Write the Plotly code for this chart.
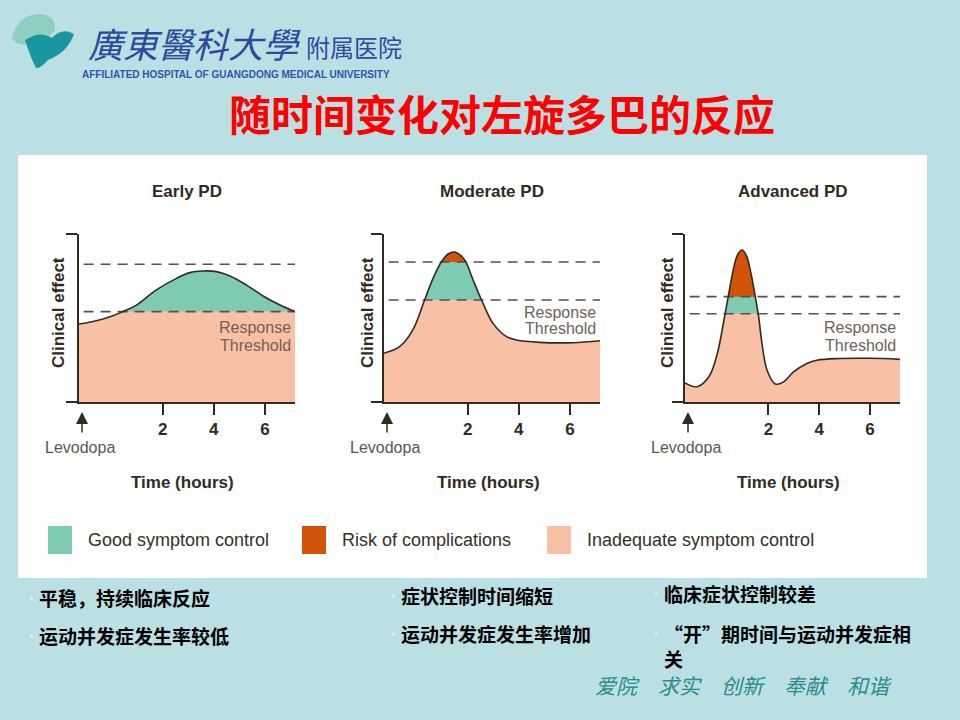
import plotly.graph_objects as go

W, H = 960, 720


def px(x):
    return x / W


def py(y):
    return 1 - y / H


# ---- data (time in hours, clinical effect 0-100) ----
panel_titles = ["Early PD", "Moderate PD", "Advanced PD"]

early_hours = [-1.28, -0.60, 0.05, 0.44, 0.97, 1.75, 2.54, 3.06, 3.58, 4.10, 4.63, 5.28, 5.93, 6.59, 7.18]
early_effect = [46.4, 48.4, 51.4, 53.8, 57.7, 66.7, 73.6, 77.0, 78.0, 77.6, 75.0, 69.6, 63.1, 57.7, 53.8]

moderate_hours = [-1.28, -0.67, -0.15, 0.31, 0.64, 0.97, 1.23, 1.49, 1.75, 1.92, 2.21, 2.54, 2.99, 3.52, 3.91, 4.82, 6.13, 7.18]
moderate_effect = [29.0, 32.9, 42.9, 60.7, 73.6, 83.5, 88.1, 89.3, 86.9, 83.5, 72.6, 60.7, 46.8, 38.9, 36.9, 35.5, 35.3, 36.5]

advanced_hours = [-1.28, -0.80, -0.34, -0.01, 0.25, 0.44, 0.64, 0.80, 0.97, 1.14, 1.32, 1.49, 1.62, 1.75, 1.95, 2.27, 2.60, 2.99, 3.52, 3.91, 4.82, 6.00, 7.18]
advanced_effect = [11.4, 9.1, 15.0, 28.8, 48.5, 64.3, 80.1, 88.0, 90.5, 87.0, 76.2, 62.3, 50.5, 34.7, 18.9, 10.7, 12.0, 17.9, 22.9, 24.9, 25.9, 26.0, 25.4]

# lower = response threshold, upper = complication threshold
lower_threshold = [53.8, 60.7, 52.5]
upper_threshold = [82.0, 83.3, 62.7]

hour_ticks = [2, 4, 6]
hour_range = [-1.28, 7.18]
effect_range = [0, 100]

legend_labels = ["Good symptom control", "Risk of complications", "Inadequate symptom control"]

notes_left = ["平稳，持续临床反应", "运动并发症发生率较低"]
notes_mid = ["症状控制时间缩短", "运动并发症发生率增加"]
notes_right = ["临床症状控制较差", "“开”期时间与运动并发症相<br>关"]
motto = "爱院　求实　创新　奉献　和谐"

# ---- styling ----
GREEN = "#7fcbb1"
ORANGE = "#d2540b"
PEACH = "#f8c1a6"
INK = "#2f2b1f"
BG = "#bbe0e4"
FONT = "Liberation Sans, Arial, sans-serif"
CJK = "Noto Sans CJK SC"

panel_left = [79, 384, 685]
panel_right = [295, 600, 900]
panel_top, panel_bottom = 234, 402

curves = [(early_hours, early_effect), (moderate_hours, moderate_effect), (advanced_hours, advanced_effect)]

fig = go.Figure()

for i, (hrs, eff) in enumerate(curves):
    xa = "x" if i == 0 else f"x{i + 1}"
    ya = "y" if i == 0 else f"y{i + 1}"
    edge = [hour_range[0], hour_range[1]]
    common = dict(xaxis=xa, yaxis=ya, hoverinfo="skip", showlegend=False)
    # layered bands: orange everywhere, green below upper, peach below lower
    fig.add_trace(go.Scatter(x=edge, y=[effect_range[1]] * 2, mode="lines", line=dict(width=0),
                             fill="tozeroy", fillcolor=ORANGE, **common))
    fig.add_trace(go.Scatter(x=edge, y=[upper_threshold[i]] * 2, mode="lines", line=dict(width=0),
                             fill="tozeroy", fillcolor=GREEN, **common))
    fig.add_trace(go.Scatter(x=edge, y=[lower_threshold[i]] * 2, mode="lines", line=dict(width=0),
                             fill="tozeroy", fillcolor=PEACH, **common))
    # white out everything above the response curve
    fig.add_trace(go.Scatter(x=hrs, y=eff, mode="lines", line=dict(width=0, shape="spline"), **common))
    fig.add_trace(go.Scatter(x=edge, y=[effect_range[1]] * 2, mode="lines", line=dict(width=0),
                             fill="tonexty", fillcolor="white", **common))
    # dashed thresholds
    for thr in (lower_threshold[i], upper_threshold[i]):
        fig.add_trace(go.Scatter(x=[-1.1, hour_range[1]], y=[thr, thr], mode="lines",
                                 line=dict(color="#555049", width=1.6, dash="10px,7px"), **common))
    # the curve itself
    fig.add_trace(go.Scatter(x=hrs, y=eff, mode="lines",
                             line=dict(color=INK, width=1.6, shape="spline"), **common))

layout = dict(
    width=W, height=H,
    margin=dict(l=0, r=0, t=0, b=0),
    paper_bgcolor=BG, plot_bgcolor="white",
    font=dict(family=FONT, color=INK),
    showlegend=False,
)
for i in range(3):
    sfx = "" if i == 0 else str(i + 1)
    layout["xaxis" + sfx] = dict(
        domain=[px(panel_left[i]), px(panel_right[i])], anchor="y" + sfx,
        range=hour_range, tickvals=hour_ticks, ticks="outside", ticklen=11, tickwidth=1.5,
        tickcolor=INK, showline=True, linecolor=INK, linewidth=1.5, showgrid=False, zeroline=False,
        tickfont=dict(size=17, family=FONT, color=INK, weight="bold"), fixedrange=True,
    )
    layout["yaxis" + sfx] = dict(
        domain=[py(panel_bottom), py(panel_top)], anchor="x" + sfx,
        range=effect_range, tickvals=effect_range, ticks="outside", ticklen=11, tickwidth=1.5,
        tickcolor=INK, showticklabels=False, showline=True, linecolor=INK, linewidth=1.5,
        showgrid=False, zeroline=False, fixedrange=True,
    )
fig.update_layout(**layout)

shapes = []
annotations = []

# white panel behind the figure
shapes.append(dict(type="rect", xref="paper", yref="paper", x0=px(18), x1=px(927), y0=py(578), y1=py(155),
                   fillcolor="white", line=dict(width=0), layer="below"))

# logo marks
def path(points):
    s = f"M{px(points[0][0])},{py(points[0][1])}"
    for j in range(1, len(points) - 1, 2):
        c, e = points[j], points[j + 1]
        s += f" Q{px(c[0])},{py(c[1])} {px(e[0])},{py(e[1])}"
    return s + " Z"

shapes.append(dict(type="path", xref="paper", yref="paper", layer="above", line=dict(width=0),
                   fillcolor="#8fcfc1",
                   path=path([(12, 38), (18, 14), (40, 14), (56, 15), (55, 30), (46, 42), (30, 44), (16, 46), (12, 38)])))
shapes.append(dict(type="path", xref="paper", yref="paper", layer="above", line=dict(width=0),
                   fillcolor="#1a96a0",
                   path=path([(25, 40), (40, 30), (52, 38), (62, 27), (74, 34), (68, 52), (48, 60), (40, 69), (36, 68), (30, 56), (25, 40)])))

annotations.append(dict(text="<i>廣東醫科大學</i>", x=px(86), y=py(42), xref="paper", yref="paper",
                        xanchor="left", yanchor="middle", showarrow=False,
                        font=dict(family=CJK, size=35, color="#2b4a9e")))
annotations.append(dict(text="附属医院", x=px(304), y=py(47), xref="paper", yref="paper",
                        xanchor="left", yanchor="middle", showarrow=False,
                        font=dict(family=CJK, size=24, color="#2b4a9e")))
annotations.append(dict(text="AFFILIATED HOSPITAL OF GUANGDONG MEDICAL UNIVERSITY", x=px(80), y=py(75),
                        xref="paper", yref="paper", xanchor="left", yanchor="middle", showarrow=False,
                        font=dict(family=FONT, size=10, color="#2f56a6", weight="bold")))

# slide title
annotations.append(dict(text="<b>随时间变化对左旋多巴的反应</b>", x=px(502), y=py(112), xref="paper", yref="paper",
                        xanchor="center", yanchor="middle", showarrow=False,
                        font=dict(family=CJK, size=42, color="#ff0000")))

title_x = [187, 492, 793]
ytitle_x = [58, 367, 667]
xtitle_x = [182, 488, 788]
thr_label_y = [(328, 345), (312, 329), (328, 345)]

for i in range(3):
    annotations.append(dict(text=panel_titles[i], x=px(title_x[i]), y=py(192), xref="paper", yref="paper",
                            xanchor="center", yanchor="middle", showarrow=False,
                            font=dict(size=17, weight="bold", color=INK)))
    annotations.append(dict(text="Clinical effect", x=px(ytitle_x[i]), y=py(313), xref="paper", yref="paper",
                            xanchor="center", yanchor="middle", showarrow=False, textangle=-90,
                            font=dict(size=17, weight="bold", color=INK)))
    annotations.append(dict(text="Time (hours)", x=px(xtitle_x[i]), y=py(483), xref="paper", yref="paper",
                            xanchor="center", yanchor="middle", showarrow=False,
                            font=dict(size=17, weight="bold", color=INK)))
    for word, yy in zip(["Response", "Threshold"], thr_label_y[i]):
        annotations.append(dict(text=word, x=px(panel_right[i] - 2), y=py(yy), xref="paper", yref="paper",
                                xanchor="right", yanchor="middle", showarrow=False,
                                font=dict(size=16, color="#6e6259")))
    # levodopa dose arrow
    annotations.append(dict(text="", x=px(panel_left[i] + 3), y=py(412), xref="paper", yref="paper",
                            ax=0, ay=22, showarrow=True, arrowhead=2, arrowsize=1.6, arrowwidth=1.5,
                            arrowcolor=INK))
    annotations.append(dict(text="Levodopa", x=px(panel_left[i] + 1), y=py(447), xref="paper", yref="paper",
                            xanchor="center", yanchor="middle", showarrow=False,
                            font=dict(size=16, color="#5a5650")))

# legend swatches
legend_colors = [GREEN, ORANGE, PEACH]
swatch_x = [48, 302, 547]
for lab, col, sx in zip(legend_labels, legend_colors, swatch_x):
    shapes.append(dict(type="rect", xref="paper", yref="paper", x0=px(sx), x1=px(sx + 24),
                       y0=py(554), y1=py(526), fillcolor=col, line=dict(width=0)))
    annotations.append(dict(text=lab, x=px(sx + 38), y=py(540), xref="paper", yref="paper",
                            xanchor="left", yanchor="middle", showarrow=False,
                            font=dict(size=18, color="#333028")))

# bullet notes under the figure
def note(text, x, y):
    annotations.append(dict(text="•", x=px(x - 10), y=py(y), xref="paper", yref="paper",
                            xanchor="left", yanchor="middle", showarrow=False,
                            font=dict(family=FONT, size=12, color="#e2e9e9")))
    annotations.append(dict(text=f"<b>{text}</b>", x=px(x), y=py(y - 17), xref="paper", yref="paper",
                            xanchor="left", yanchor="top", align="left", showarrow=False,
                            font=dict(family=CJK, size=19, color="#000000")))

note(notes_left[0], 37, 599)
note(notes_left[1], 37, 637)
note(notes_mid[0], 399, 597)
note(notes_mid[1], 399, 635)
note(notes_right[0], 662, 595)
note(notes_right[1], 662, 635)

annotations.append(dict(text=f"<i>{motto}</i>", x=px(743), y=py(685), xref="paper", yref="paper",
                        xanchor="center", yanchor="middle", showarrow=False,
                        font=dict(family=CJK, size=21, color="#2a8c8c")))

fig.update_layout(shapes=shapes, annotations=annotations)

fig.write_html("out.html", config={"displayModeBar": False},
               post_script="document.body.style.margin='0';document.body.style.background='" + BG + "';")
